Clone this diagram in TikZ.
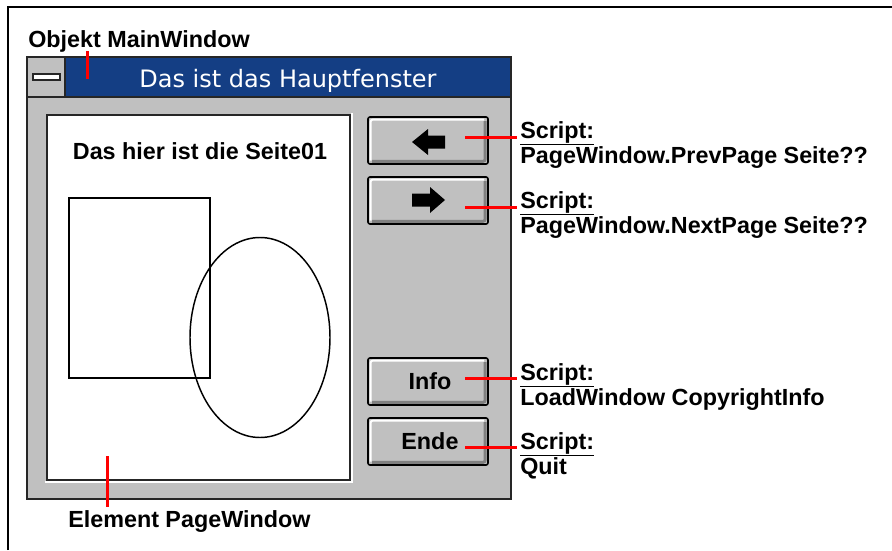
\documentclass[tikz,border=0pt]{standalone}
\usepackage{fontspec}
\setmainfont{Liberation Sans}
\newfontfamily\titlefont{DejaVu Sans}
\usetikzlibrary{positioning,calc}

\definecolor{wingray}{RGB}{192,192,192}
\definecolor{winshade}{RGB}{128,128,128}
\definecolor{titleblue}{RGB}{20,62,132}
\definecolor{pinred}{RGB}{255,0,0}

\begin{document}
\begin{tikzpicture}[
    x=0.75pt, y=-0.75pt,
    lbl/.style={font=\fontsize{17.5}{18.75}\selectfont\bfseries, align=left, inner sep=2.25pt, anchor=base west},
    btn/.style={draw=black, fill=wingray, line width=1.2pt, rounded corners=1.5pt, minimum width=90pt, minimum height=35.25pt,
        font=\fontsize{17.5}{18.75}\selectfont\bfseries,
        path picture={
            \draw[white, line width=1.5pt] ([xshift=2pt,yshift=2.5pt]path picture bounding box.south west) |- ([xshift=-3pt,yshift=-2pt]path picture bounding box.north east);
            \draw[winshade, line width=2.2pt] ([xshift=3pt,yshift=2pt]path picture bounding box.south west) -| ([xshift=-2.2pt,yshift=-3pt]path picture bounding box.north east);
        }},
    redline/.style={draw=pinred, line width=2.25pt},
    figline/.style={draw=black, line width=1.1pt}
]

\useasboundingbox[fill=white] (0,0) rectangle (892,550);

% Rahmen
\draw[line width=1.5pt] (8,550) -- (8,7) -- (892,7);

% Hauptfenster
\draw[fill=wingray, draw=black!85, line width=1.5pt] (27,57) rectangle (511,499);
\fill[titleblue] (27,57) rectangle (511,97);
\fill[wingray] (27,57) rectangle (65,97);
\draw[black!85, line width=1.5pt] (27,57) rectangle (511,97) (65,57) -- (65,97);
\draw[fill=white, draw=black!85, line width=0.8pt] (33,74) rectangle (60,80);
\node[font=\titlefont\fontsize{18}{20}\selectfont, text=white, anchor=base] (titletext) at (288,87) {Das ist das Hauptfenster};

% Seite
\draw[white, line width=1pt] (45,482) -- (352,482) -- (352,113);
\draw[fill=white, draw=black!85, line width=1.5pt] (47,115) rectangle (350,480);
\node[font=\fontsize{17.5}{18.75}\selectfont\bfseries, anchor=base] (seitetext) at (200,159) {Das hier ist die Seite01};
\draw[figline] (69,198) rectangle (210,378);
\draw[figline] (260,337.5) ellipse [x radius=70, y radius=100];

% Buttons
\node[btn] (prevbtn) at (428,140.5) {};
\node[btn] (nextbtn) at (428,200.5) {};
\node[btn] (infobtn) at (428,381.5) {\,Info};
\node[btn] (endebtn) at (428,441.5) {\,Ende};

\fill (412,142) -- (428,129) -- (428,135.5) -- (445,135.5) -- (445,148.5) -- (428,148.5) -- (428,155) -- cycle;
\fill (445,200) -- (430,187) -- (430,193.5) -- (412,193.5) -- (412,206.5) -- (430,206.5) -- (430,213) -- cycle;

% Beschriftungen
\node[lbl] (lblmain) at (25,47) {Objekt MainWindow};
\node[lbl] (lblpage) at (65,527) {Element PageWindow};
\node[lbl] (lblprev) at (517,163) {\underline{Script:}\\PageWindow.PrevPage Seite??};
\node[lbl] (lblnext) at (517,233) {\underline{Script:}\\PageWindow.NextPage Seite??};
\node[lbl] (lblinfo) at (517,405) {\underline{Script:}\\LoadWindow CopyrightInfo};
\node[lbl] (lblende) at (517,474) {\underline{Script:}\\Quit};

% Verbindungen
\coordinate (mainpin) at (87,79);
\coordinate (pagepin) at (107,456);
\coordinate (prevpin) at (465,137);
\coordinate (nextpin) at (465,207);
\coordinate (infopin) at (465,378);
\coordinate (endepin) at (465,447);

\draw[redline] (mainpin) -- ([yshift=-3pt]mainpin |- lblmain.base);
\draw[redline] (pagepin) -- (pagepin |- lblpage.north);
\draw[redline] (prevpin) -- (prevpin -| lblprev.west);
\draw[redline] (nextpin) -- (nextpin -| lblnext.west);
\draw[redline] (infopin) -- (infopin -| lblinfo.west);
\draw[redline] (endepin) -- (endepin -| lblende.west);

\end{tikzpicture}
\end{document}
